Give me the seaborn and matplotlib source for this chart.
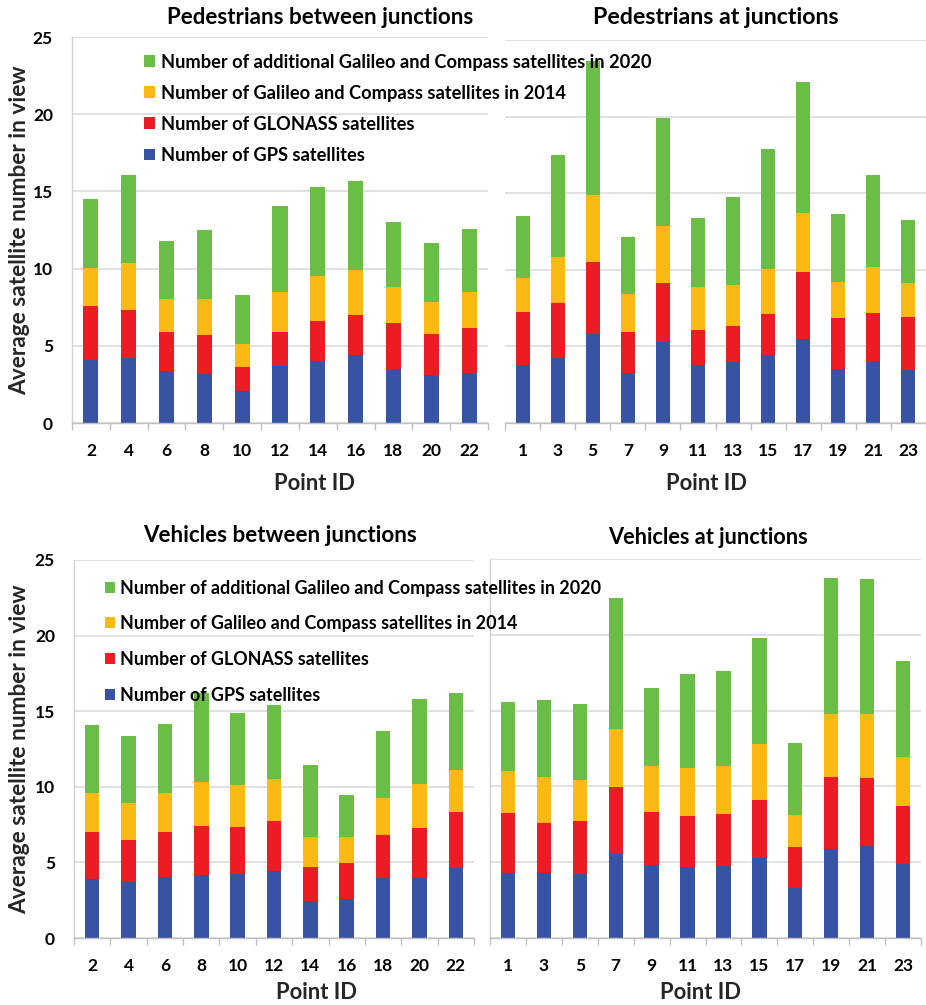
import numpy as np
import matplotlib
matplotlib.use("Agg")
import matplotlib.pyplot as plt
import seaborn as sns

# ---------------- data ----------------
SERIES = [
    "Number of GPS satellites",
    "Number of GLONASS satellites",
    "Number of Galileo and Compass satellites in 2014",
    "Number of additional Galileo and Compass satellites in 2020",
]
COLORS = ["#3953A4", "#ED1C24", "#FDB913", "#6ABD45"]

TITLES = ["Pedestrians between junctions", "Pedestrians at junctions",
          "Vehicles between junctions", "Vehicles at junctions"]
XLABEL = "Point ID"
YLABEL = "Average satellite number in view"
YTICKS = [0, 5, 10, 15, 20, 25]

ped_between_ids = ["2", "4", "6", "8", "10", "12", "14", "16", "18", "20", "22"]
ped_between_gps = [4.06, 4.21, 3.35, 3.17, 2.07, 3.67, 4.04, 4.38, 3.52, 3.11, 3.24]
ped_between_glonass = [3.50, 3.13, 2.55, 2.51, 1.54, 2.20, 2.59, 2.64, 2.96, 2.68, 2.94]
ped_between_gc2014 = [2.46, 3.03, 2.11, 2.38, 1.53, 2.64, 2.92, 2.87, 2.35, 2.03, 2.31]
ped_between_gc2020 = [4.49, 5.68, 3.76, 4.47, 3.15, 5.57, 5.74, 5.81, 4.19, 3.82, 4.10]

ped_at_ids = ["1", "3", "5", "7", "9", "11", "13", "15", "17", "19", "21", "23"]
ped_at_gps = [3.81, 4.25, 5.84, 3.25, 5.29, 3.81, 3.99, 4.42, 5.51, 3.51, 4.03, 3.49]
ped_at_glonass = [3.44, 3.59, 4.70, 2.70, 3.82, 2.27, 2.33, 2.70, 4.32, 3.33, 3.18, 3.44]
ped_at_gc2014 = [2.21, 3.01, 4.34, 2.50, 3.74, 2.77, 2.72, 2.95, 3.90, 2.35, 2.99, 2.22]
ped_at_gc2020 = [4.05, 6.62, 8.77, 3.71, 7.04, 4.55, 5.69, 7.82, 8.51, 4.45, 6.01, 4.12]

veh_between_ids = ["2", "4", "6", "8", "10", "12", "14", "16", "18", "20", "22"]
veh_between_gps = [3.93, 3.71, 4.04, 4.15, 4.22, 4.46, 2.47, 2.58, 4.00, 4.00, 4.61]
veh_between_glonass = [3.05, 2.74, 3.00, 3.29, 3.11, 3.31, 2.25, 2.36, 2.78, 3.26, 3.71]
veh_between_gc2014 = [2.58, 2.49, 2.56, 2.91, 2.82, 2.76, 1.97, 1.75, 2.47, 2.92, 2.81]
veh_between_gc2020 = [4.50, 4.39, 4.55, 5.83, 4.71, 4.90, 4.72, 2.74, 4.41, 5.60, 5.05]

veh_at_ids = ["1", "3", "5", "7", "9", "11", "13", "15", "17", "19", "21", "23"]
veh_at_gps = [4.32, 4.32, 4.23, 5.51, 4.80, 4.69, 4.78, 5.31, 3.33, 5.86, 6.06, 4.91]
veh_at_glonass = [3.90, 3.28, 3.46, 4.45, 3.53, 3.39, 3.39, 3.81, 2.64, 4.76, 4.51, 3.77]
veh_at_gc2014 = [2.79, 3.02, 2.75, 3.85, 3.01, 3.11, 3.17, 3.66, 2.16, 4.18, 4.23, 3.28]
veh_at_gc2020 = [4.58, 5.06, 5.02, 8.61, 5.18, 6.21, 6.28, 7.00, 4.76, 8.94, 8.86, 6.32]

# ---------------- style ----------------
sns.set_theme(style="white")
plt.rcParams["font.family"] = ["Lato", "DejaVu Sans"]
plt.rcParams["font.weight"] = "bold"
plt.rcParams["text.color"] = "black"

W, H = 926, 1005
fig = plt.figure(figsize=(W / 100, H / 100), dpi=100)
renderer = fig.canvas.get_renderer()


def rect(l, t, r, b):
    return [l / W, 1 - b / H, (r - l) / W, (b - t) / H]


def fx(x):
    return x / W


def fy(y):
    return 1 - y / H


def fit(text, target_w, base=10.0):
    t = fig.text(0, 0, text, fontsize=base, weight="bold")
    w = t.get_window_extent(renderer).width
    t.remove()
    return base * target_w / w


def text_h(text, size):
    t = fig.text(0, 0, text, fontsize=size, weight="bold")
    h = t.get_window_extent(renderer).height
    t.remove()
    return h


panels = [
    dict(ids=ped_between_ids,
         segs=[ped_between_gps, ped_between_glonass, ped_between_gc2014, ped_between_gc2020],
         box=(72, 37, 488, 423), title_xy=(320, 17), title_w=307,
         xlabel_xy=(315, 483), ylab=True, left_spine=True),
    dict(ids=ped_at_ids,
         segs=[ped_at_gps, ped_at_glonass, ped_at_gc2014, ped_at_gc2020],
         box=(505, 40, 926, 423), title_xy=(716, 18), title_w=246,
         xlabel_xy=(707, 483), ylab=False, left_spine=False),
    dict(ids=veh_between_ids,
         segs=[veh_between_gps, veh_between_glonass, veh_between_gc2014, veh_between_gc2020],
         box=(74, 560, 474, 938), title_xy=(280, 535), title_w=275,
         xlabel_xy=(317, 992), ylab=True, left_spine=True),
    dict(ids=veh_at_ids,
         segs=[veh_at_gps, veh_at_glonass, veh_at_gc2014, veh_at_gc2020],
         box=(490, 559, 921, 938), title_xy=(708, 537), title_w=200,
         xlabel_xy=(701, 992), ylab=False, left_spine=True),
]

TICK_FS = 12.5
xl_fs = fit(XLABEL, 81)
yl_fs = fit(YLABEL, 330)

axes = []
for i, p in enumerate(panels):
    ax = fig.add_axes(rect(*p["box"]))
    axes.append(ax)
    ids = p["ids"]
    n = len(ids)
    cum = np.cumsum(np.array(p["segs"], dtype=float), axis=0)
    for k in range(3, -1, -1):
        sns.barplot(x=ids, y=cum[k], order=ids, color=COLORS[k], width=0.4,
                    saturation=1, errorbar=None, linewidth=0, ax=ax,
                    label=SERIES[k])
    if ax.get_legend() is not None:
        ax.get_legend().remove()
    ax.set_axisbelow(True)
    ax.set_xlim(-0.5, n - 0.5)
    ax.set_ylim(0, 25)
    ax.set_yticks(YTICKS)
    ax.yaxis.grid(True, color="#D9D9D9", linewidth=1.1)
    ax.xaxis.grid(False)
    for s in ["top", "right"]:
        ax.spines[s].set_visible(False)
    ax.spines["bottom"].set_color("#BFBFBF")
    ax.spines["bottom"].set_linewidth(1.0)
    ax.spines["left"].set_visible(p["left_spine"])
    ax.spines["left"].set_color("#D0D0D0")
    ax.spines["left"].set_linewidth(1.0)

    ax.set_xticks(range(n))
    ax.set_xticklabels(ids)
    ax.set_xticks(np.arange(-0.5, n, 1.0), minor=True)
    ax.tick_params(axis="x", which="major", length=0, pad=14.5,
                   labelsize=TICK_FS, colors="black")
    ax.tick_params(axis="x", which="minor", length=5, width=1.0,
                   color="#BFBFBF", direction="out", bottom=True)
    if p["ylab"]:
        ax.tick_params(axis="y", length=0, pad=13.7, labelsize=TICK_FS,
                       colors="black")
        ax.set_ylabel(YLABEL, fontsize=yl_fs, weight="bold")
        ax.yaxis.set_label_coords(fx(20), 0.5 * (fy(p["box"][1]) + fy(p["box"][3])),
                                  transform=fig.transFigure)
        ax.yaxis.label.set_va("center")
    else:
        ax.tick_params(axis="y", length=0, labelleft=False)
        ax.set_ylabel("")
    for lab in ax.get_xticklabels() + ax.get_yticklabels():
        lab.set_fontweight("bold")

    ax.set_xlabel(XLABEL, fontsize=xl_fs, weight="bold")
    ax.xaxis.set_label_coords(fx(p["xlabel_xy"][0]), fy(p["xlabel_xy"][1]),
                              transform=fig.transFigure)
    ax.xaxis.label.set_va("center")

    fig.text(fx(p["title_xy"][0]), fy(p["title_xy"][1]), TITLES[i],
             ha="center", va="center", weight="bold",
             fontsize=fit(TITLES[i], p["title_w"]))

# ---------------- legends (figure level so they sit above the neighbour panel) -----
def add_legend(ax, sq_left, sq_size, text_left, row1_center, pitch, text_w):
    handles, labels = ax.get_legend_handles_labels()
    fs = fit(labels[0], text_w)
    fs_px = fs * 100 / 72
    h = text_h(labels[0], fs)
    spacing = (pitch - h) / fs_px
    top = row1_center - h / 2
    fig.legend(handles, labels, loc="upper left",
               bbox_to_anchor=(fx(sq_left), fy(top)), bbox_transform=fig.transFigure,
               frameon=False, borderpad=0, borderaxespad=0,
               handlelength=sq_size / fs_px, handleheight=sq_size / fs_px,
               handletextpad=(text_left - sq_left - sq_size) / fs_px,
               labelspacing=spacing, prop={"size": fs, "weight": "bold"})


add_legend(axes[0], 144, 11, 161, 62, 31.1, 492)
add_legend(axes[2], 105, 10, 120.5, 588, 35.7, 481)

fig.savefig("out.png", dpi=100)
